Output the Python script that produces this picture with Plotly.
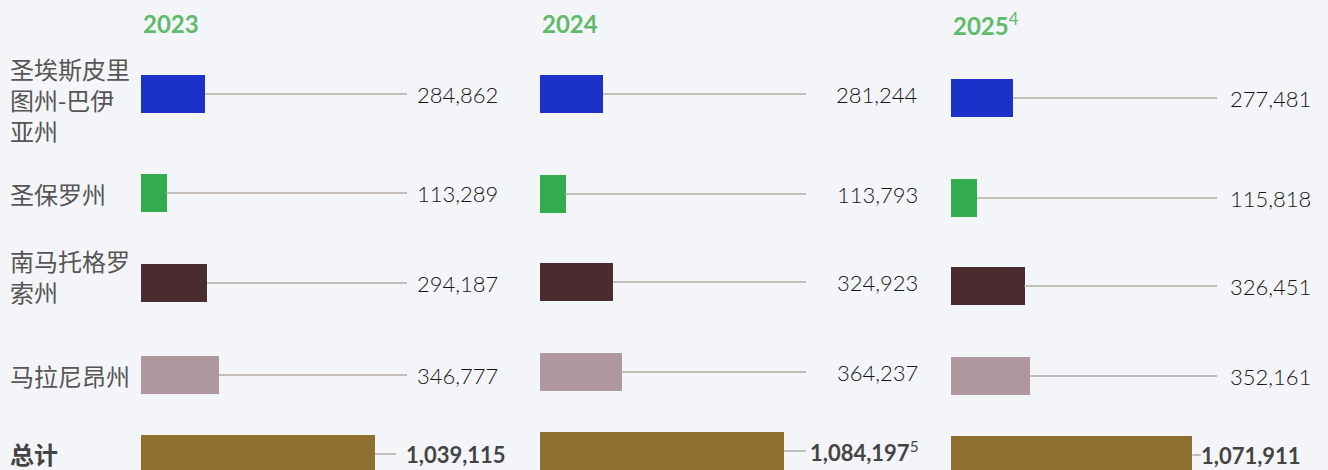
import plotly.graph_objects as go

# ---------------- data ----------------
years = ["2023", "2024", "2025"]
year_notes = ["", "", "4"]
regions = ["圣埃斯皮里<br>图州-巴伊<br>亚州", "圣保罗州", "南马托格罗<br>索州", "马拉尼昂州", "总计"]
values_2023 = [284862, 113289, 294187, 346777, 1039115]
values_2024 = [281244, 113793, 324923, 364237, 1084197]
values_2025 = [277481, 115818, 326451, 352161, 1071911]
total_notes = ["", "5", ""]

# ---------------- layout / style constants ----------------
W, H = 1328, 470
BG = "#f4f5f8"
bar_colors = ["#1b31c9", "#33ab4f", "#4a2b30", "#ae979d", "#8f6f2f"]
line_color = "#c2beb7"
year_color = "#5fba6a"
PX_PER_UNIT = 0.0002252          # horizontal scale shared by all panels
panel_origin_px = [141, 540, 951]
panel_text_right_px = [500, 920, 1313]
line_end_px = 266
total_line_end_px = [255, 266, 250]
total_xshift = [8, 1, -10]
row_y = [[94, 193, 283, 375, 454],
         [94, 194, 282, 372, 451],
         [98, 198, 286, 376, 455]]
label_y = [99, 193, 276, 375, 453]
BAR_H = 38

series = [values_2023, values_2024, values_2025]

fig = go.Figure()
annotations = []
layout_axes = {}

for i, vals in enumerate(series):
    ax = "" if i == 0 else str(i + 1)
    o, r = panel_origin_px[i], panel_text_right_px[i]
    rng_max = (r - o) / PX_PER_UNIT
    layout_axes[f"xaxis{ax}"] = dict(domain=[o / W, r / W], range=[0, rng_max],
                                     visible=False, fixedrange=True, anchor="y")
    ys = row_y[i]
    # connector lines (from bar end to fixed end)
    lx, ly = [], []
    for k, v in enumerate(vals):
        end_px = total_line_end_px[i] if k == len(vals) - 1 else line_end_px
        lx += [v, end_px / PX_PER_UNIT, None]
        ly += [ys[k], ys[k], None]
    fig.add_trace(go.Scatter(x=lx, y=ly, mode="lines", xaxis=f"x{ax}", yaxis="y",
                             line=dict(color=line_color, width=2),
                             hoverinfo="skip", showlegend=False))
    fig.add_trace(go.Bar(x=vals, y=ys, orientation="h", width=BAR_H,
                         marker=dict(color=bar_colors, line=dict(width=0)),
                         xaxis=f"x{ax}", yaxis="y", hoverinfo="skip",
                         showlegend=False))
    # value labels
    for k, v in enumerate(vals):
        is_total = k == len(vals) - 1
        txt = f"{v:,}"
        if is_total:
            txt = f"<b>{txt}</b>"
            if total_notes[i]:
                txt += f"<sup>{total_notes[i]}</sup>"
        annotations.append(dict(
            xref=f"x{ax} domain", x=1, xanchor="right",
            yref="y", y=ys[k], yanchor="middle",
            text=txt, showarrow=False,
            xshift=total_xshift[i] if is_total else 0,
            font=dict(family="Lato", size=22,
                      color="#444444" if is_total else "#151515",
                      weight=400 if is_total else 300)))
    # year header
    ytxt = f"<b>{years[i]}</b>"
    if year_notes[i]:
        ytxt += f"<sup>{year_notes[i]}</sup>"
    annotations.append(dict(xref="paper", x=o / W, xanchor="left",
                            yref="paper", y=1 - 24 / H, yanchor="middle",
                            text=ytxt, showarrow=False,
                            font=dict(family="Lato", size=24, color=year_color)))

# region labels
for k, lab in enumerate(regions):
    is_total = k == len(regions) - 1
    annotations.append(dict(xref="paper", x=8 / W, xanchor="left", align="left",
                            yref="y", y=label_y[k], yanchor="middle",
                            text=f"<b>{lab}</b>" if is_total else lab,
                            showarrow=False,
                            font=dict(family="Noto Sans CJK SC", size=24,
                                      color="#444444" if is_total else "#555555")))

fig.update_layout(
    width=W, height=H,
    margin=dict(l=0, r=0, t=0, b=0),
    paper_bgcolor=BG, plot_bgcolor=BG,
    yaxis=dict(range=[H, 0], domain=[0, 1], visible=False, fixedrange=True),
    annotations=annotations,
    hovermode=False,
    bargap=0,
    **layout_axes,
)

fig.write_html("out.html", config={"displayModeBar": False},
               post_script="document.body.style.margin='0';document.body.style.overflow='hidden';")
